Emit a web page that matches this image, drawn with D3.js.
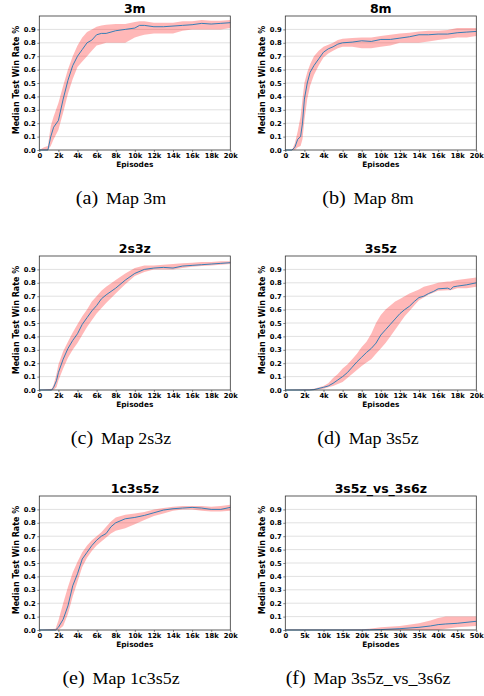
<!DOCTYPE html>
<html><head><meta charset="utf-8">
<script src="https://cdn.jsdelivr.net/npm/d3@7"></script>
<style>
html,body{margin:0;padding:0;background:#fff;}
svg{display:block;}
</style></head>
<body>
<svg id="fig" width="484" height="696"></svg>
<script>
// ---------- Data (x in thousands of episodes) ----------
const titles = ["3m", "8m", "2s3z", "3s5z", "1c3s5z", "3s5z_vs_3s6z"];
const captionLabels = ["(a)", "(b)", "(c)", "(d)", "(e)", "(f)"];
const captionTexts = ["Map 3m", "Map 8m", "Map 2s3z", "Map 3s5z", "Map 1c3s5z", "Map 3s5z_vs_3s6z"];
const xMaxes = [20, 20, 20, 20, 20, 50];
const xTicks20 = [0, 2, 4, 6, 8, 10, 12, 14, 16, 18, 20];
const xTicks50 = [0, 5, 10, 15, 20, 25, 30, 35, 40, 45, 50];
const yTicks = [0.0, 0.1, 0.2, 0.3, 0.4, 0.5, 0.6, 0.7, 0.8, 0.9];

const x3m   = [0,0.5,0.9,1.2,1.5,2,2.5,3,3.5,4,4.5,5,5.5,6,6.5,7,8,9,10,10.5,11,12,13,14,15,16,17,18,19,20];
const med3m = [0,0,0,0.1,0.17,0.22,0.38,0.52,0.63,0.70,0.75,0.80,0.82,0.86,0.87,0.87,0.89,0.90,0.91,0.93,0.93,0.92,0.92,0.925,0.93,0.935,0.945,0.94,0.945,0.95];
const lo3m  = [0,0,0,0.03,0.08,0.15,0.28,0.42,0.53,0.62,0.66,0.70,0.74,0.78,0.79,0.80,0.80,0.80,0.84,0.85,0.86,0.87,0.87,0.87,0.89,0.90,0.90,0.90,0.90,0.91];
const hi3m  = [0,0.02,0.03,0.18,0.25,0.35,0.48,0.60,0.70,0.78,0.84,0.88,0.90,0.92,0.93,0.935,0.94,0.94,0.955,0.96,0.96,0.95,0.95,0.95,0.96,0.96,0.97,0.965,0.965,0.97];

const x8m   = [0,0.7,1,1.3,1.6,1.8,2,2.3,2.6,3,3.5,4,4.5,5,5.5,6,7,8,9,10,11,12,13,14,15,16,17,18,19,20];
const med8m = [0,0,0.02,0.08,0.10,0.2,0.38,0.5,0.58,0.63,0.68,0.73,0.755,0.77,0.79,0.80,0.805,0.815,0.81,0.825,0.825,0.835,0.845,0.86,0.86,0.865,0.865,0.875,0.88,0.885];
const lo8m  = [0,0,0,0.02,0.03,0.08,0.22,0.38,0.48,0.56,0.63,0.69,0.72,0.74,0.76,0.77,0.77,0.76,0.76,0.77,0.78,0.80,0.80,0.80,0.81,0.82,0.83,0.84,0.84,0.85];
const hi8m  = [0,0,0.05,0.14,0.25,0.38,0.50,0.58,0.64,0.70,0.74,0.77,0.785,0.80,0.82,0.83,0.835,0.84,0.84,0.85,0.86,0.87,0.875,0.885,0.89,0.89,0.895,0.91,0.91,0.91];

const x2s3z   = [0,1.3,1.5,1.8,2,2.5,3,3.5,4,4.5,5,5.5,6,6.5,7,8,9,10,11,12,13,14,15,16,17,18,19,20];
const med2s3z = [0,0,0.02,0.07,0.13,0.23,0.31,0.37,0.42,0.49,0.54,0.59,0.63,0.68,0.71,0.76,0.82,0.87,0.90,0.91,0.915,0.91,0.925,0.93,0.935,0.94,0.945,0.95];
const lo2s3z  = [0,0,0,0.02,0.07,0.16,0.24,0.30,0.35,0.41,0.47,0.52,0.57,0.61,0.65,0.72,0.79,0.85,0.88,0.90,0.90,0.90,0.91,0.92,0.925,0.93,0.935,0.94];
const hi2s3z  = [0,0.01,0.04,0.12,0.19,0.29,0.36,0.43,0.49,0.55,0.60,0.66,0.70,0.74,0.77,0.82,0.87,0.91,0.93,0.93,0.935,0.94,0.945,0.95,0.955,0.955,0.96,0.96];

const x3s5z   = [0,2.5,3,4,4.5,5,5.5,6,6.5,7,7.5,8,8.5,9,9.5,10,10.5,11,11.5,12,12.5,13,13.5,14,14.5,15,15.5,16,17,17.3,17.6,18,19,20];
const med3s5z = [0,0,0.003,0.02,0.03,0.05,0.075,0.10,0.13,0.17,0.21,0.245,0.28,0.31,0.35,0.41,0.45,0.49,0.53,0.57,0.60,0.625,0.66,0.69,0.70,0.72,0.735,0.755,0.76,0.75,0.77,0.775,0.785,0.80];
const lo3s5z  = [0,0,0,0.01,0.02,0.03,0.045,0.06,0.09,0.12,0.15,0.18,0.205,0.23,0.27,0.31,0.35,0.40,0.45,0.50,0.55,0.59,0.63,0.67,0.69,0.71,0.725,0.74,0.745,0.745,0.75,0.76,0.76,0.77];
const hi3s5z  = [0,0.005,0.01,0.03,0.05,0.09,0.12,0.16,0.19,0.23,0.27,0.32,0.36,0.42,0.50,0.56,0.60,0.63,0.66,0.68,0.70,0.72,0.735,0.75,0.77,0.78,0.79,0.80,0.81,0.81,0.815,0.82,0.83,0.84];

const x1c3s5z   = [0,1.7,2,2.5,3,3.5,4,4.5,5,5.5,6,6.5,7,7.5,8,9,10,11,12,13,14,15,16,17,18,19,20];
const med1c3s5z = [0,0,0.02,0.08,0.18,0.33,0.42,0.53,0.58,0.63,0.67,0.70,0.72,0.77,0.80,0.83,0.84,0.855,0.875,0.895,0.905,0.91,0.915,0.91,0.90,0.90,0.915];
const lo1c3s5z  = [0,0,0,0.03,0.12,0.25,0.36,0.47,0.54,0.59,0.63,0.66,0.69,0.72,0.74,0.76,0.79,0.82,0.85,0.87,0.89,0.90,0.90,0.89,0.885,0.885,0.89];
const hi1c3s5z  = [0,0.01,0.07,0.20,0.32,0.43,0.51,0.58,0.63,0.67,0.70,0.73,0.77,0.81,0.84,0.86,0.87,0.88,0.90,0.91,0.92,0.925,0.925,0.925,0.92,0.925,0.935];

const xVs   = [0,5,10,15,20,22,25,30,35,38,40,42,45,50];
const medVs = [0,0,0,0,0,0.001,0.003,0.01,0.02,0.03,0.04,0.045,0.05,0.065];
const loVs  = [0,0,0,0,0,0,0,0,0,0,0,0.01,0.02,0.03];
const hiVs  = [0.004,0.004,0.004,0.004,0.005,0.01,0.02,0.03,0.05,0.07,0.09,0.10,0.10,0.10];

const xs   = [x3m, x8m, x2s3z, x3s5z, x1c3s5z, xVs];
const meds = [med3m, med8m, med2s3z, med3s5z, med1c3s5z, medVs];
const los  = [lo3m, lo8m, lo2s3z, lo3s5z, lo1c3s5z, loVs];
const his  = [hi3m, hi8m, hi2s3z, hi3s5z, hi1c3s5z, hiVs];

// ---------- Layout ----------
const svg = d3.select("#fig");
const colLeft = [39.3, 285.3];
const plotW = 191;
const rowTop = [16, 256, 496];
const plotH = 134;
const captionX = [121, 368];
const captionY = [204, 444, 684];
const boldFont = "'DejaVu Sans', sans-serif";

titles.forEach((title, i) => {
  const col = i % 2, row = Math.floor(i / 2);
  const x0 = colLeft[col], y0 = rowTop[row];
  const g = svg.append("g").attr("transform", `translate(${x0},${y0})`);
  const x = d3.scaleLinear().domain([0, xMaxes[i]]).range([0, plotW]);
  const y = d3.scaleLinear().domain([0, 1.0]).range([plotH, 0]);

  // grid
  g.append("g").selectAll("line").data(yTicks.slice(1)).join("line")
    .attr("x1", 0).attr("x2", plotW)
    .attr("y1", d => y(d)).attr("y2", d => y(d))
    .attr("stroke", "#d4d4d4").attr("stroke-width", 0.7);

  const pts = xs[i].map((v, k) => ({x: v, m: meds[i][k], lo: los[i][k], hi: his[i][k]}));
  g.append("path").datum(pts)
    .attr("d", d3.area().x(d => x(d.x)).y0(d => y(d.lo)).y1(d => y(d.hi)))
    .attr("fill", "#ff0000").attr("fill-opacity", 0.28);
  g.append("path").datum(pts)
    .attr("d", d3.line().x(d => x(d.x)).y(d => y(d.m)))
    .attr("fill", "none").attr("stroke", "#1f77b4").attr("stroke-width", 0.9);

  // frame
  g.append("rect").attr("x", 0).attr("y", 0).attr("width", plotW).attr("height", plotH)
    .attr("fill", "none").attr("stroke", "#333").attr("stroke-width", 0.8);

  // axes
  const xt = xMaxes[i] === 50 ? xTicks50 : xTicks20;
  const xAxis = d3.axisBottom(x).tickValues(xt).tickSize(2).tickPadding(1.5)
    .tickFormat(d => d === 0 ? "0" : d + "k");
  const gx = g.append("g").attr("transform", `translate(0,${plotH})`).call(xAxis);
  gx.select(".domain").remove();
  gx.selectAll("text").attr("font-family", boldFont).attr("font-weight", "bold")
    .attr("font-size", 6.8).attr("fill", "#000");
  gx.selectAll("line").attr("stroke", "#333").attr("stroke-width", 0.6);

  const yAxis = d3.axisLeft(y).tickValues(yTicks).tickSize(2).tickPadding(1.5)
    .tickFormat(d3.format(".1f"));
  const gy = g.append("g").call(yAxis);
  gy.select(".domain").remove();
  gy.selectAll("text").attr("font-family", boldFont).attr("font-weight", "bold")
    .attr("font-size", 6.8).attr("fill", "#000");
  gy.selectAll("line").attr("stroke", "#333").attr("stroke-width", 0.6);

  // labels
  g.append("text").attr("x", plotW / 2).attr("y", -3).attr("text-anchor", "middle")
    .attr("font-family", boldFont).attr("font-weight", "bold").attr("font-size", 12.5)
    .text(title);
  g.append("text").attr("x", plotW / 2).attr("y", plotH + 17).attr("text-anchor", "middle")
    .attr("font-family", boldFont).attr("font-weight", "bold").attr("font-size", 7.4)
    .text("Episodes");
  g.append("text").attr("transform", `translate(-20.8,${plotH / 2 - 3}) rotate(-90)`)
    .attr("text-anchor", "middle")
    .attr("font-family", boldFont).attr("font-weight", "bold").attr("font-size", 8)
    .text("Median Test Win Rate %");

  // caption
  const cap = svg.append("g")
    .attr("transform", `translate(${captionX[col]},${captionY[row]}) scale(1.12,1)`)
    .append("text").attr("x", 0).attr("y", 0)
    .attr("text-anchor", "middle").attr("font-family", "'Liberation Serif', 'Times New Roman', serif")
    .attr("font-size", 16).attr("fill", "#000");
  cap.append("tspan").attr("font-size", 18).text(captionLabels[i]);
  cap.append("tspan").attr("dx", 7).text(captionTexts[i]);
});
</script>
</body></html>
